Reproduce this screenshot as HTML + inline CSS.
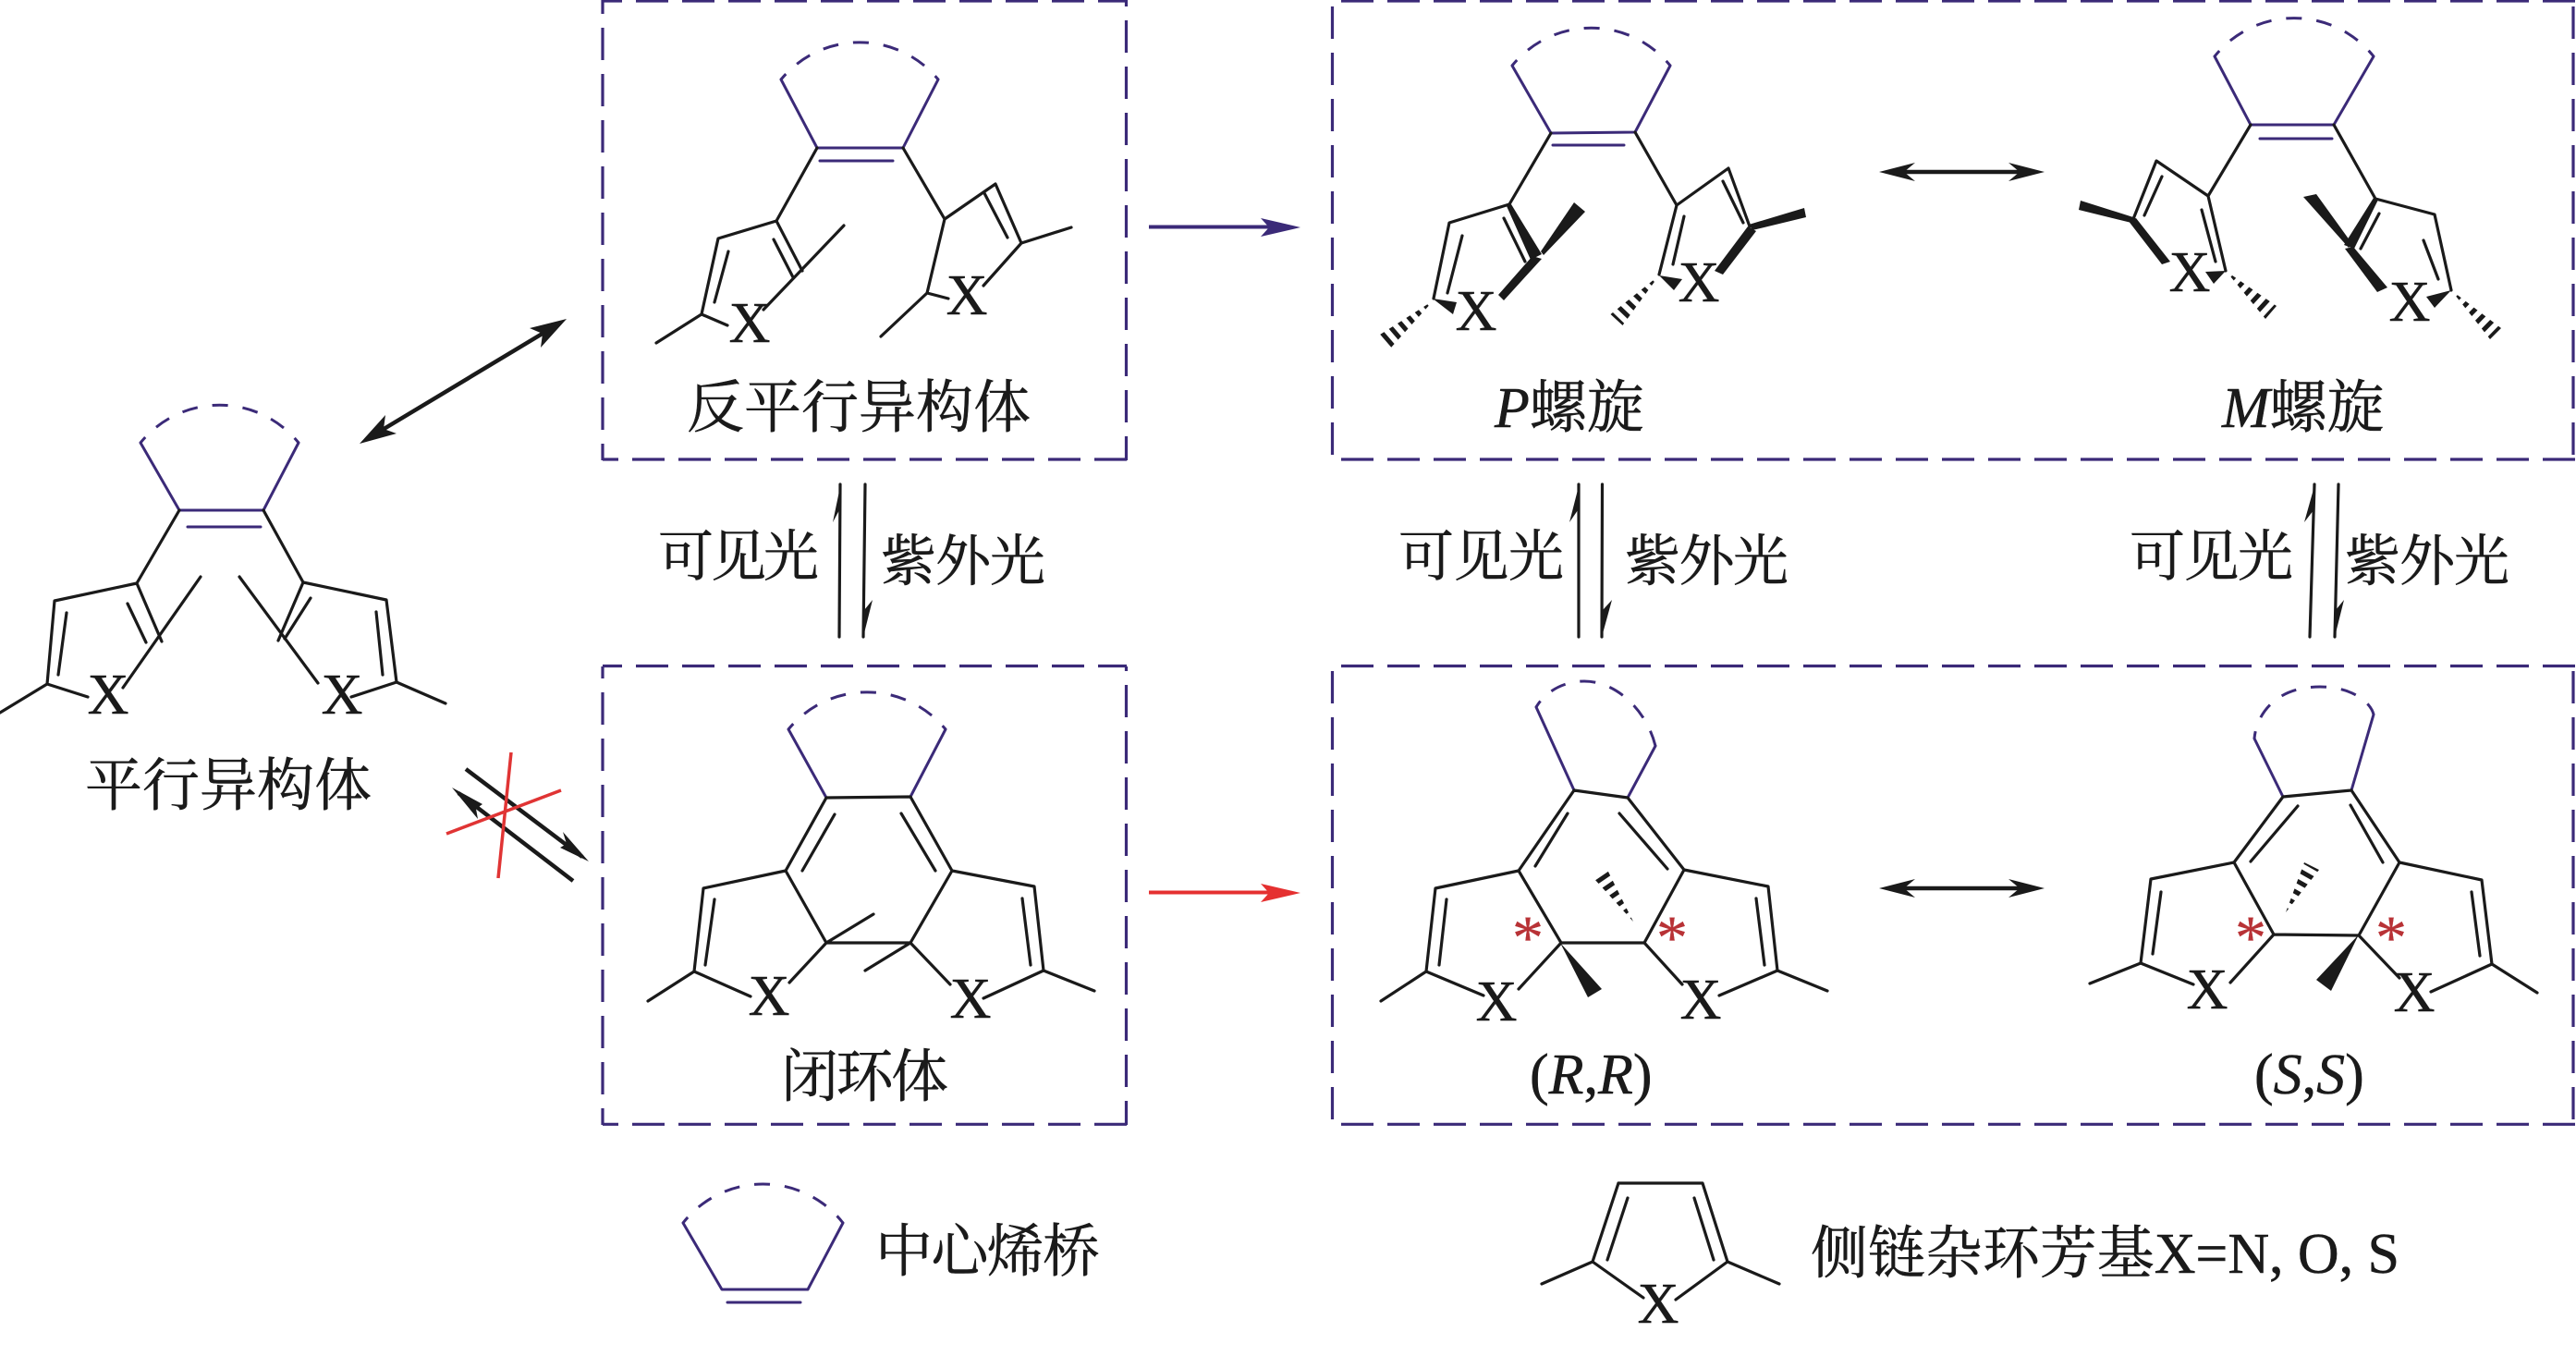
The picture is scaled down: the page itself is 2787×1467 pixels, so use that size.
<!DOCTYPE html>
<html><head><meta charset="utf-8"><style>
html,body{margin:0;padding:0;background:#fff}
svg{display:block}
.b{fill:none;stroke:#1a1a1a;stroke-width:3.2;stroke-linecap:round;stroke-linejoin:round}
.v{fill:none;stroke:#3b2a78;stroke-width:3;stroke-linecap:round;stroke-linejoin:round}
.d{fill:none;stroke:#3b2a78;stroke-width:3;stroke-dasharray:17 16;stroke-dashoffset:9}
.bx{stroke:#3b2a78;stroke-width:3.2;stroke-dasharray:35 15;fill:none}
.f{fill:#1a1a1a;stroke:none}
text{font-family:"Liberation Serif","Noto Serif CJK SC",serif;fill:#1a1a1a;font-size:62px;stroke:#1a1a1a;stroke-width:.5}
.x{text-anchor:middle}
.s{fill:#b83236;stroke:#b83236;stroke-width:.3;font-size:68px;text-anchor:middle}
</style></head><body>
<svg width="2787" height="1467" viewBox="0 0 2787 1467" xmlns="http://www.w3.org/2000/svg">
<defs>
<mask id="h1" maskUnits="userSpaceOnUse" x="0" y="0" width="2787" height="1467"><line x1="1545" y1="330" x2="1495" y2="373" stroke="#fff" stroke-width="40" stroke-dasharray="5 6"/></mask>
<mask id="h2" maskUnits="userSpaceOnUse" x="0" y="0" width="2787" height="1467"><line x1="1789" y1="304" x2="1745" y2="350" stroke="#fff" stroke-width="40" stroke-dasharray="5 6"/></mask>
<mask id="h3" maskUnits="userSpaceOnUse" x="0" y="0" width="2787" height="1467"><line x1="2414" y1="299" x2="2461" y2="342" stroke="#fff" stroke-width="40" stroke-dasharray="5 6"/></mask>
<mask id="h4" maskUnits="userSpaceOnUse" x="0" y="0" width="2787" height="1467"><line x1="2658" y1="320" x2="2704" y2="365" stroke="#fff" stroke-width="40" stroke-dasharray="5 6"/></mask>
<mask id="h5" maskUnits="userSpaceOnUse" x="0" y="0" width="2787" height="1467"><line x1="1767" y1="997" x2="1730" y2="943" stroke="#fff" stroke-width="40" stroke-dasharray="5 6"/></mask>
<mask id="h6" maskUnits="userSpaceOnUse" x="0" y="0" width="2787" height="1467"><line x1="2473" y1="987" x2="2503" y2="934" stroke="#fff" stroke-width="40" stroke-dasharray="5 6"/></mask>
</defs>

<!-- boxes -->
<line class="bx" x1="652" y1="0" x2="652" y2="498" stroke-dashoffset="20"/>
<line class="bx" x1="1218.500" y1="0" x2="1218.500" y2="498" stroke-dashoffset="28"/>
<line class="bx" x1="652" y1="1" x2="1219" y2="1" stroke-dashoffset="14"/>
<line class="bx" x1="652" y1="497" x2="1219" y2="497" stroke-dashoffset="18"/>
<line class="bx" x1="652" y1="721" x2="652" y2="1217" stroke-dashoffset="22"/>
<line class="bx" x1="1218.500" y1="721" x2="1218.500" y2="1217" stroke-dashoffset="30"/>
<line class="bx" x1="652" y1="720.500" x2="1219" y2="720.500" stroke-dashoffset="14"/>
<line class="bx" x1="652" y1="1216.300" x2="1219" y2="1216.300" stroke-dashoffset="18"/>
<line class="bx" x1="1441.500" y1="0" x2="1441.500" y2="498" stroke-dashoffset="43"/>
<line class="bx" x1="2784" y1="0" x2="2784" y2="498" stroke-dashoffset="43"/>
<line class="bx" x1="1441" y1="1" x2="2787" y2="1" stroke-dashoffset="40"/>
<line class="bx" x1="1441" y1="497" x2="2787" y2="497" stroke-dashoffset="40"/>
<line class="bx" x1="1441.500" y1="721" x2="1441.500" y2="1217" stroke-dashoffset="45"/>
<line class="bx" x1="2784" y1="721" x2="2784" y2="1217" stroke-dashoffset="45"/>
<line class="bx" x1="1441" y1="720.500" x2="2787" y2="720.500" stroke-dashoffset="40"/>
<line class="bx" x1="1441" y1="1216.300" x2="2787" y2="1216.300" stroke-dashoffset="40"/>

<!-- parallel isomer -->
<path class="d" d="M152 479A110 110 0 0 1 323 479"/>
<path class="v" d="M152 479L194 552L285 552L323 479M203 570H282"/>
<path class="b" d="M194 552L148 631L59 650L51 740L95 754M51 740L0 771M148 631L175 694M138 653L158 695M72 663L63 730M217 624L133 744"/>
<path class="b" d="M285 552L328 630L418 649L429 738L380 754M429 738L482 761M328 630L301 693M336 647L308 691M407 662L414 730M259 624L344 739"/>
<text class="x" x="117" y="772">X</text><text class="x" x="370" y="772">X</text>
<text x="92" y="871" textLength="310">平行异构体</text>

<!-- double arrow parallel-antiparallel -->
<line x1="600" y1="353" x2="402" y2="472" stroke="#1a1a1a" stroke-width="4.5"/>
<polygon class="f" points="613,345 585,376 587,361 573,355"/>
<polygon class="f" points="389,480 429,469 415,464 417,449"/>

<!-- crossed equilibrium -->
<line x1="504" y1="832" x2="630" y2="927" stroke="#1a1a1a" stroke-width="4.5"/>
<polygon class="f" points="637,932 609,900 613,913 606,917"/>
<line x1="620" y1="953" x2="496" y2="858" stroke="#1a1a1a" stroke-width="4.5"/>
<polygon class="f" points="489,852 517,886 515,875 522,870"/>
<path d="M553 814L539 950M607 855L483 902" fill="none" stroke="#e03434" stroke-width="3.5"/>

<!-- antiparallel -->
<path class="d" d="M845 86A110 110 0 0 1 1015 86"/>
<path class="v" d="M845 86L884 160H977L1015 86M887 174H966"/>
<path class="b" d="M884 160L840 239L777 258L759 340L787 352M759 340L710 371M840 239L868 293M788 272L773 327M837 259L858 300M913 244L826 335"/>
<path class="b" d="M977 160L1022 237L1077 199L1105 263L1159 246M1105 263L1064 309M1065 209L1090 257M1022 237L1003 317L1026 323M1003 317L953 364"/>
<text class="x" x="811" y="370">X</text><text class="x" x="1046" y="340">X</text>
<text x="743" y="462" textLength="372">反平行异构体</text>

<!-- equilibria -->
<g>
<path class="b" d="M909 524L908 689M936 524L934 689"/>
<polygon class="f" points="909.5,524 901,565 908,552"/>
<polygon class="f" points="934,689 944,649 935,660"/>
<path class="b" d="M1708 524V689M1733.500 524L1733 689"/>
<polygon class="f" points="1708.500,524 1698,565 1707,552"/>
<polygon class="f" points="1733,689 1744,649 1734,660"/>
<path class="b" d="M2504 524L2499 689M2530 524L2526 689"/>
<polygon class="f" points="2504.500,524 2493,565 2503,552"/>
<polygon class="f" points="2526,689 2536,649 2527,660"/>
</g>
<text x="712" y="623" style="font-size:60px" textLength="174">可见光</text>
<text x="953" y="628" style="font-size:60px" textLength="178">紫外光</text>
<text x="1513" y="623" style="font-size:60px" textLength="179">可见光</text>
<text x="1758" y="628" style="font-size:60px" textLength="177">紫外光</text>
<text x="2304" y="623" style="font-size:60px" textLength="177">可见光</text>
<text x="2537" y="628" style="font-size:60px" textLength="178">紫外光</text>

<!-- closed form -->
<path class="d" d="M853 789A110 110 0 0 1 1023 789"/>
<path class="v" d="M853 789L894 863M1023 789L985 862"/>
<path class="b" d="M894 863L985 862L1030 942L985 1020H894L850 942ZM903 881L868 942M975 880L1012 942M850 942L761 961L751 1051L812 1078M751 1051L701 1083M773 973L763 1044M894 1020L945 989M985 1020L936 1050M894 1020L854 1063M985 1020L1028 1065M1030 942L1119 959L1129 1050L1064 1080M1129 1050L1184 1072M1106 972L1115 1044"/>
<text class="x" x="832" y="1098">X</text><text class="x" x="1050" y="1101">X</text>
<text x="845" y="1186" textLength="181">闭环体</text>

<!-- arrows -->
<line x1="1243" y1="245.500" x2="1375" y2="245.500" stroke="#3b2a78" stroke-width="4"/>
<polygon points="1407,246 1364,236 1373,246 1364,256" fill="#3b2a78"/>
<line x1="1243" y1="965.500" x2="1375" y2="965.500" stroke="#e53030" stroke-width="4"/>
<polygon points="1407,966 1364,956 1373,966 1364,976" fill="#e53030"/>

<!-- P helix -->
<path class="d" d="M1636 71A110 110 0 0 1 1807 71"/>
<path class="v" d="M1636 71L1678 144L1769 143L1807 71M1680 157H1757"/>
<path class="b" d="M1678 144L1633 221L1568 241L1551 323M1582 255L1566 317M1627 236L1650 283M1769 143L1814 222L1870 182L1893 245M1864 196L1886 241M1814 222L1795 297M1822 234L1810 286"/>
<polygon class="f" points="1630,223 1635,221 1668,275 1656,281"/>
<polygon class="f" points="1658,277 1668,280 1627,325 1621,319"/>
<polygon class="f" points="1667,272 1703,219 1715,229 1670,276"/>
<polygon class="f" points="1550,323 1576,327 1572,340"/>
<polygon class="f" mask="url(#h1)" points="1551,325 1505,376 1493,362"/>
<polygon class="f" points="1892,243 1952,225 1954,235 1896,249"/>
<polygon class="f" points="1891,245 1900,250 1864,297 1855,293"/>
<polygon class="f" points="1795,298 1820,302 1811,314"/>
<polygon class="f" mask="url(#h2)" points="1795,298 1755.500,352 1742.500,340"/>
<text class="x" x="1597" y="357">X</text><text class="x" x="1838" y="326">X</text>
<text x="1617" y="462"><tspan font-style="italic">P</tspan>螺旋</text>

<line x1="2060" y1="186" x2="2185" y2="186" stroke="#1a1a1a" stroke-width="4.5"/>
<polygon class="f" points="2033,186 2072,176 2060,186 2072,196"/>
<polygon class="f" points="2212,186 2173,176 2185,186 2173,196"/>

<!-- M helix -->
<path class="d" d="M2396 61A110 110 0 0 1 2568 61"/>
<path class="v" d="M2396 61L2435 135H2525L2568 61M2445 150H2523"/>
<path class="b" d="M2435 135L2389 212L2333 174L2308 237M2339 191L2320 233M2389 212L2408 293M2382 227L2397 283M2525 135L2570 215L2634 232L2652 314M2622 260L2638 302M2574 231L2554 269"/>
<polygon class="f" points="2308,235 2251,217 2249,227 2306,241"/>
<polygon class="f" points="2302,238 2311,236 2348,283 2339,286"/>
<polygon class="f" points="2408,293 2386,294 2395,307"/>
<polygon class="f" mask="url(#h3)" points="2408,293 2463,331 2451,345"/>
<polygon class="f" points="2568,214 2573,216 2547,269 2536,265"/>
<polygon class="f" points="2541,268 2492,213 2506,210 2545,264"/>
<polygon class="f" points="2537,269 2546,267 2583,311 2572,316"/>
<polygon class="f" points="2652,314 2625,321 2634,333"/>
<polygon class="f" mask="url(#h4)" points="2652,314 2706,355 2694,367"/>
<text class="x" x="2369" y="315">X</text><text class="x" x="2607" y="347">X</text>
<text x="2404" y="462"><tspan font-style="italic">M</tspan>螺旋</text>

<!-- R,R -->
<path class="d" d="M1662 765C1672 748 1692 737 1714 737C1750 737 1782 770 1791 807"/>
<path class="v" d="M1662 765L1703 855M1791 807L1761 863"/>
<path class="b" d="M1703 855L1761 863L1822 941L1779 1020H1689L1643 942ZM1696 880L1661 937M1752 880L1804 940M1643 942L1553 961L1543 1051L1605 1077M1543 1051L1494 1083M1565 973L1557 1044M1689 1020L1643 1070M1779 1020L1820 1065M1822 941L1913 959L1923 1050L1860 1077M1923 1050L1977 1072M1900 972L1909 1044"/>
<polygon class="f" points="1688,1020 1733,1070 1718,1079"/>
<polygon class="f" mask="url(#h5)" points="1767,997 1739,941 1725,951"/>
<text class="x" x="1619" y="1104">X</text><text class="x" x="1840" y="1102">X</text>
<text class="s" x="1653" y="1037">*</text><text class="s" x="1809" y="1037">*</text>
<text x="1655" y="1183">(<tspan font-style="italic">R</tspan>,<tspan font-style="italic">R</tspan>)</text>

<line x1="2060" y1="961" x2="2185" y2="961" stroke="#1a1a1a" stroke-width="4.5"/>
<polygon class="f" points="2033,961 2072,951 2060,961 2072,971"/>
<polygon class="f" points="2212,961 2173,951 2185,961 2173,971"/>

<!-- S,S -->
<path class="d" d="M2439 799C2441 775 2460 743 2510 743C2545 743 2565 760 2568 773"/>
<path class="v" d="M2439 799L2470 862M2568 773L2544 855"/>
<path class="b" d="M2470 862L2544 855L2596 933L2552 1012L2460 1011L2417 933ZM2486 872L2435 932M2543 871L2578 933M2417 933L2327 951L2316 1042L2373 1065M2316 1042L2261 1064M2338 965L2329 1032M2460 1011L2413 1063M2552 1012L2596 1058M2596 933L2685 952L2696 1043L2630 1073M2696 1043L2745 1074M2674 965L2683 1034"/>
<polygon class="f" points="2552,1011 2522,1072 2506,1060"/>
<polygon class="f" mask="url(#h6)" points="2473,987 2509,941 2493,933"/>
<text class="x" x="2388" y="1091">X</text><text class="x" x="2612" y="1094">X</text>
<text class="s" x="2435" y="1037">*</text><text class="s" x="2587" y="1037">*</text>
<text x="2439" y="1183">(<tspan font-style="italic">S</tspan>,<tspan font-style="italic">S</tspan>)</text>

<!-- legend -->
<path class="d" d="M739 1323A110 110 0 0 1 912 1323"/>
<path class="v" d="M739 1323L781 1395H874L912 1323M787 1409H866"/>
<text x="947" y="1375" textLength="243">中心烯桥</text>
<path class="b" d="M1751 1280H1842L1869 1365L1925 1389M1869 1365L1813 1406M1751 1280L1723 1365L1668 1389M1723 1365L1778 1404M1761 1296L1739 1363M1833 1296L1854 1363"/>
<text class="x" x="1794" y="1431">X</text>
<text x="1959" y="1377" textLength="637">侧链杂环芳基X=N, O, S</text>
</svg>
</body></html>
